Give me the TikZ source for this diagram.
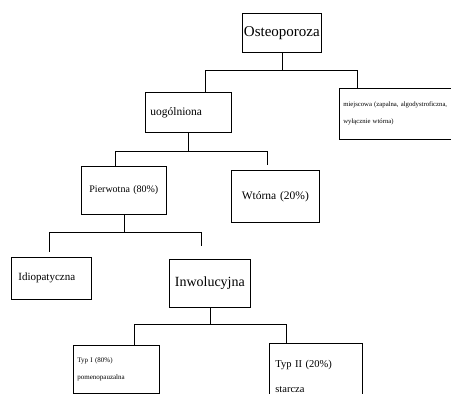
\documentclass[tikz,border=0pt]{standalone}
\usepackage{fontspec}
\setmainfont{Liberation Serif}
\tikzset{
  blok/.style = {rectangle, draw=black, line width=0.7pt, inner sep=0pt,
    anchor=north west},
  blok_c/.style = {blok, align=center},% tekst na srodku
  blok_l/.style = {blok, align=left},% tekst do lewej
  linia/.style = {draw=black, line width=0.6pt}
}

\begin{document}
\begin{tikzpicture}[x=1pt,y=-1pt]
\useasboundingbox (0,0) rectangle (451,394);
\clip (0,0) rectangle (451,394);

% bloki
\node [blok_c, minimum width=79pt, minimum height=39pt, text width=79pt,
  font=\fontsize{15}{17}\selectfont] (osteo) at (242,13) {Osteoporoza};
\node [blok_l, minimum width=111pt, minimum height=51pt, text width=104pt,
  inner xsep=4pt, font=\fontsize{6.7}{17}\selectfont] (miej) at (339,88)
  {miejscowa (zapalna, algodystroficzna,\\wyłącznie wtórna)};
\node [blok_l, minimum width=86pt, minimum height=40pt, text width=76pt,
  inner xsep=5pt, font=\fontsize{11.5}{13}\selectfont] (uog) at (145,92) {uogólniona};
\node [blok_c, minimum width=85pt, minimum height=48pt, text width=85pt,
  font=\fontsize{10}{12}\selectfont] (pierw) at (81,166) {Pierwotna (80\%)};
\node [blok_c, minimum width=88pt, minimum height=52pt, text width=84pt,
  font=\fontsize{11.5}{13}\selectfont] (wtor) at (231,170) {Wtórna (20\%)};
\node [blok_l, minimum width=80pt, minimum height=42pt, text width=66pt,
  inner xsep=7pt, font=\fontsize{11}{13}\selectfont] (idio) at (11,257) {Idiopatyczna};
\node [blok_c, minimum width=81pt, minimum height=48pt, text width=81pt,
  font=\fontsize{14}{16}\selectfont] (inwol) at (169,259) {Inwolucyjna};
\node [blok_l, minimum width=86pt, minimum height=48pt, text width=78pt,
  inner xsep=4pt, font=\fontsize{7}{17}\selectfont] (typ1) at (73,345)
  {Typ I (80\%)\\pomenopauzalna};
\node [blok_l, minimum width=93pt, minimum height=66pt, text width=81pt,
  inner xsep=6pt, font=\fontsize{10.5}{25}\selectfont] (typ2) at (269,343)
  {Typ II (20\%)\\starcza};

% szyny poziome
\coordinate (s1l) at (205,70);  \coordinate (s1r) at (357,70);
\coordinate (s2l) at (115,151); \coordinate (s2r) at (267,151);
\coordinate (s3l) at (49,232);  \coordinate (s3r) at (201,232);
\coordinate (s4l) at (134,324); \coordinate (s4r) at (286,324);
% konce krotszych linii
\coordinate (k2r) at (267,165);
\coordinate (k3l) at (49,252);  \coordinate (k3r) at (201,246);

\draw [linia] (osteo.south) -- (osteo.south |- s1l);
\draw [linia] (s1l) -- (s1r);
\draw [linia] (s1l) -- (s1l |- uog.north);
\draw [linia] (s1r) -- (s1r |- miej.north);

\draw [linia] (uog.south) -- (uog.south |- s2l);
\draw [linia] (s2l) -- (s2r);
\draw [linia] (s2l) -- (s2l |- pierw.north);
\draw [linia] (s2r) -- (k2r);

\draw [linia] (pierw.south) -- (pierw.south |- s3l);
\draw [linia] (s3l) -- (s3r);
\draw [linia] (s3l) -- (k3l);
\draw [linia] (s3r) -- (k3r);

\draw [linia] (inwol.south) -- (inwol.south |- s4l);
\draw [linia] (s4l) -- (s4r);
\draw [linia] (s4l) -- (s4l |- typ1.north);
\draw [linia] (s4r) -- (s4r |- typ2.north);

\end{tikzpicture}
\end{document}
